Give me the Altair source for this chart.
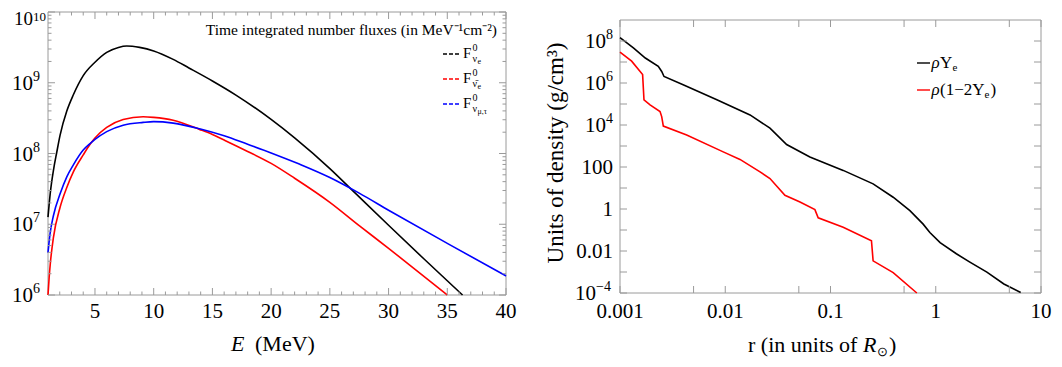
import altair as alt
import pandas as pd

FONT = "Liberation Serif"
FRAME = "#9a9a9a"

# ---------------- Left panel: time integrated number fluxes ----------------
E_nue = [1.0, 1.2, 1.46, 1.75, 2.03, 2.6, 3.16, 4.0, 5.0, 6.0, 7.0, 7.7, 8.8, 10.0,
         11.66, 13.0, 15.0, 17.0, 20.0, 22.0, 25.0, 26.7, 28.0, 30.0, 33.0, 35.0, 36.3]
F_nue = [1.26e7, 2.82e7, 5.75e7, 1.05e8, 1.82e8, 3.98e8, 6.76e8, 1.26e9, 1.95e9, 2.69e9,
         3.16e9, 3.31e9, 3.16e9, 2.82e9, 2.14e9, 1.62e9, 1.06e9, 6.70e8, 3.03e8, 1.66e8,
         6.11e7, 3.27e7, 2.02e7, 9.68e6, 3.25e6, 1.59e6, 1.0e6]

E_nuebar = [1.0, 1.1, 1.2, 1.46, 2.03, 2.6, 3.16, 4.0, 4.58, 5.0, 6.0, 7.4, 9.1, 10.0,
            11.66, 13.9, 15.0, 16.0, 17.0, 18.0, 20.0, 22.0, 25.0, 27.5, 30.0, 32.5, 35.0]
F_nuebar = [1.0e6, 1.78e6, 2.82e6, 6.46e6, 1.74e7, 3.31e7, 5.50e7, 9.55e7, 1.35e8, 1.66e8,
            2.34e8, 3.02e8, 3.31e8, 3.24e8, 2.95e8, 2.19e8, 1.86e8, 1.55e8, 1.29e8, 1.07e8,
            7.24e7, 4.47e7, 2.04e7, 9.55e6, 4.57e6, 2.14e6, 1.0e6]

E_numu = [1.0, 1.17, 1.46, 2.03, 2.6, 3.16, 4.0, 4.58, 5.0, 6.0, 7.4, 9.1, 10.0, 11.66,
          13.9, 16.0, 18.0, 20.0, 22.4, 25.0, 27.5, 30.0, 35.0, 40.0]
F_numu = [3.98e6, 7.24e6, 1.32e7, 2.69e7, 4.68e7, 6.92e7, 1.12e8, 1.38e8, 1.58e8, 2.04e8,
          2.51e8, 2.75e8, 2.82e8, 2.69e8, 2.24e8, 1.78e8, 1.35e8, 1.02e8, 7.08e7, 4.57e7,
          2.75e7, 1.58e7, 5.37e6, 1.86e6]

# ---------------- Right panel: density profiles ----------------
r_Ye = [0.001, 0.00134, 0.00174, 0.00231, 0.00249, 0.00262, 0.00398, 0.00832, 0.0172,
        0.0266, 0.0383, 0.0637, 0.132, 0.254, 0.394, 0.568, 0.759, 0.879, 1.10, 1.57,
        2.11, 3.06, 4.44, 6.41]
rho_Ye = [1.45e8, 4.68e7, 1.55e7, 6.17e6, 3.55e6, 2.04e6, 8.32e5, 1.58e5, 3.02e4, 7.08e3,
          1.175e3, 302, 69, 15.8, 3.63, 0.83, 0.19, 0.076, 0.025, 7.4e-3, 2.95e-3, 9.8e-4,
          2.7e-4, 1.05e-4]

r_1m2Ye = [0.001, 0.00129, 0.00164, 0.00169, 0.00193, 0.00240, 0.00249, 0.00258, 0.00430,
           0.00957, 0.0138, 0.0214, 0.0266, 0.0369, 0.0513, 0.0711, 0.0764, 0.132, 0.245,
           0.254, 0.394, 0.661]
rho_1m2Ye = [2.95e7, 1.10e7, 2.51e6, 1.58e5, 9.12e4, 4.37e4, 2.51e4, 8.9e3, 3.31e3, 525,
             229, 58.9, 28.2, 4.47, 2.14, 0.93, 0.38, 0.135, 0.031, 3.4e-3, 9.3e-4, 1.0e-4]

# ---------------- Ticks and labels ----------------
xL_major = [5, 10, 15, 20, 25, 30, 35, 40]
xL_labels = ["5", "10", "15", "20", "25", "30", "35", "40"]
xL_minor = [e for e in range(2, 40) if e % 5 != 0]
yL_major = [1e6, 1e7, 1e8, 1e9]
yL_exp = ["6", "7", "8", "9"]
yL_top = [1e10]
yL_top_exp = ["10"]
yL_minor = [k * 10.0 ** d for d in range(6, 10) for k in range(2, 10)]

xR_major = [0.001, 0.01, 0.1, 1, 10]
xR_labels = ["0.001", "0.01", "0.1", "1", "10"]
xR_minor = [0.005, 0.05, 0.5, 5]
yR_major = [1e-4, 1e-2, 1, 1e2, 1e4, 1e6, 1e8]
yR_pow = [1e4, 1e6, 1e8]
yR_pow_exp = ["4", "6", "8"]
yR_neg = [1e-4]
yR_neg_exp = ["\u22124"]
yR_plain = [1e-2, 1, 1e2]
yR_plain_labels = ["0.01", "1", "100"]
yR_minor = [1e-3, 1e-1, 10, 1e3, 1e5, 1e7]

# ---------------- Scales (pixel ranges place the two panels) ----------------
xL = alt.Scale(type="linear", domain=[1, 40], range=[40, 498], nice=False, zero=False)
yL = alt.Scale(type="log", domain=[1e6, 1e10], range=[287, 4], nice=False)
xR = alt.Scale(type="log", domain=[0.001, 10], range=[612, 1033], nice=False)
yR = alt.Scale(type="log", domain=[1e-4, 1e9], range=[285, 12], nice=False)

ONE = pd.DataFrame({"a": [0]})


def curve(xs, ys, color, sx, sy, interp):
    return alt.Chart(pd.DataFrame({"x": xs, "y": ys})).mark_line(
        color=color, strokeWidth=1.6, interpolate=interp
    ).encode(x=alt.X("x:Q", scale=sx, axis=None), y=alt.Y("y:Q", scale=sy, axis=None))


def frame(sx, sy, x0, x1, y0, y1):
    return alt.Chart(ONE).mark_rect(fill="white", fillOpacity=0, stroke=FRAME, strokeWidth=1).encode(
        x=alt.XDatum(x0, type="quantitative", scale=sx, axis=None), x2=alt.X2Datum(x1),
        y=alt.YDatum(y0, type="quantitative", scale=sy, axis=None), y2=alt.Y2Datum(y1))


def xticks(vals, sx, edge, length):
    return alt.Chart(pd.DataFrame({"v": vals})).mark_rule(color=FRAME, strokeWidth=1).encode(
        x=alt.X("v:Q", scale=sx, axis=None), y=alt.value(edge), y2=alt.value(edge + length))


def yticks(vals, sy, edge, length):
    return alt.Chart(pd.DataFrame({"v": vals})).mark_rule(color=FRAME, strokeWidth=1).encode(
        y=alt.Y("v:Q", scale=sy, axis=None), x=alt.value(edge), x2=alt.value(edge + length))


def xlabels(vals, labs, sx, ypix):
    return alt.Chart(pd.DataFrame({"v": vals, "t": labs})).mark_text(
        font=FONT, fontSize=21, align="center", baseline="alphabetic", color="black"
    ).encode(x=alt.X("v:Q", scale=sx, axis=None), y=alt.value(ypix), text="t:N")


def ylabels(vals, labs, sy, xpix, align="right", size=21, dy=7):
    return alt.Chart(pd.DataFrame({"v": vals, "t": labs})).mark_text(
        font=FONT, fontSize=size, align=align, baseline="alphabetic", dy=dy, color="black"
    ).encode(y=alt.Y("v:Q", scale=sy, axis=None), x=alt.value(xpix), text="t:N")


def txt(s, x, y, size, align="left", style="normal", angle=0, color="black"):
    kw = dict(text=s, font=FONT, fontSize=size, align=align, baseline="alphabetic",
              fontStyle=style, color=color)
    if angle:
        kw["angle"] = angle
    return alt.Chart(ONE).mark_text(**kw).encode(x=alt.value(x), y=alt.value(y))


def sample(x0, x1, y, color, dash=None):
    kw = dict(color=color, strokeWidth=1.4)
    if dash:
        kw["strokeDash"] = dash
    return alt.Chart(ONE).mark_rule(**kw).encode(x=alt.value(x0), x2=alt.value(x1), y=alt.value(y))


# ---------------- Left panel layers ----------------
left_layers = [
    frame(xL, yL, 1, 40, 1e6, 1e10),
    curve(E_nue, F_nue, "black", xL, yL, "monotone"),
    curve(E_nuebar, F_nuebar, "red", xL, yL, "monotone"),
    curve(E_numu, F_numu, "blue", xL, yL, "monotone"),
    xticks(xL_major, xL, 287, -7), xticks(xL_minor, xL, 287, -3.5),
    xticks(xL_major, xL, 4, 7), xticks(xL_minor, xL, 4, 3.5),
    yticks(yL_major + yL_top, yL, 40, 7), yticks(yL_minor, yL, 40, 3.5),
    yticks(yL_major + yL_top, yL, 498, -7), yticks(yL_minor, yL, 498, -3.5),
    xlabels(xL_major, xL_labels, xL, 310),
    ylabels(yL_major, ["10"] * len(yL_major), yL, 25),
    ylabels(yL_major, yL_exp, yL, 25, align="left", size=14, dy=-2),
    ylabels(yL_top, ["10"], yL, 25, size=19, dy=13),
    ylabels(yL_top, yL_top_exp, yL, 25, align="left", size=13, dy=8.5),
    txt("E", 223, 343, 22, style="italic"),
    txt("(MeV)", 247, 343, 22),
    txt("Time integrated number fluxes (in MeV\u207b\u00b9cm\u207b\u00b2)", 489, 27, 15.5, align="right"),
]

leg_sub = ["\u03bd", "\u03bd\u0304", "\u03bd"]
leg_subsub = ["e", "e", "\u03bc,\u03c4"]
leg_colors = ["black", "red", "blue"]
for i in range(3):
    yc = 46 + i * 25
    left_layers += [
        sample(435, 452, yc, leg_colors[i], dash=[4, 2]),
        txt("F", 455, yc + 3.5, 15),
        txt("0", 464.5, yc - 3.5, 10),
        txt(leg_sub[i], 464.5, yc + 7.5, 10),
        txt(leg_subsub[i], 469.5, yc + 9.5, 8),
    ]

left = alt.layer(*left_layers)

# ---------------- Right panel layers ----------------
right_layers = [
    frame(xR, yR, 0.001, 10, 1e-4, 1e9),
    curve(r_Ye, rho_Ye, "black", xR, yR, "linear"),
    curve(r_1m2Ye, rho_1m2Ye, "red", xR, yR, "linear"),
    xticks(xR_major, xR, 285, -7), xticks(xR_minor, xR, 285, -7),
    xticks(xR_major, xR, 12, 7), xticks(xR_minor, xR, 12, 7),
    yticks(yR_major, yR, 612, 7), yticks(yR_minor, yR, 612, 7),
    yticks(yR_major, yR, 1033, -7), yticks(yR_minor, yR, 1033, -7),
    xlabels(xR_major, xR_labels, xR, 310),
    ylabels(yR_plain, yR_plain_labels, yR, 605),
    ylabels(yR_pow, ["10"] * len(yR_pow), yR, 598),
    ylabels(yR_pow, yR_pow_exp, yR, 598, align="left", size=14, dy=-2),
    ylabels(yR_neg, ["10"], yR, 588),
    ylabels(yR_neg, yR_neg_exp, yR, 588, align="left", size=14, dy=-2),
    txt("r (in units of ", 740, 344, 22),
    txt("R", 855, 344, 22, style="italic"),
    txt("\u2299", 869, 348, 13),
    txt(")", 881, 344, 22),
    txt("Units of density (g/cm\u00b3)", 555, 145, 23, align="center", angle=270),
    sample(909, 922, 55, "black"),
    sample(909, 922, 82, "red"),
    txt("\u03c1", 923.5, 59.5, 17, style="italic"),
    txt("Y", 932, 59.5, 17),
    txt("e", 944.5, 62.5, 11),
    txt("\u03c1", 923.5, 86.5, 17, style="italic"),
    txt("(1\u22122Y", 932, 86.5, 17),
    txt("e", 976.5, 89.5, 11),
    txt(")", 982.5, 86.5, 17),
]
right = alt.layer(*right_layers)

chart = alt.layer(left, right).resolve_scale(x="independent", y="independent").properties(
    width=1046, height=351, autosize=alt.AutoSizeParams(type="none"), padding=0
).configure_view(stroke=None)

chart.save("out.html", embed_options={"renderer": "svg", "actions": False})
